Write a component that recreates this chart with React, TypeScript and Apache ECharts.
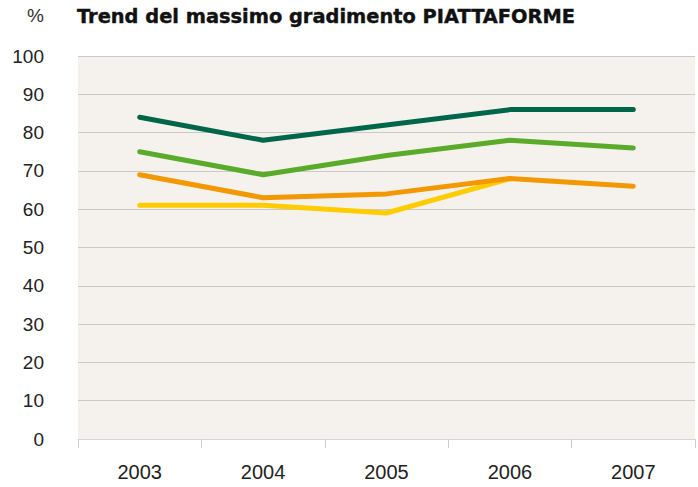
import React, { useEffect, useRef } from "react";
import * as echarts from "echarts";

const years = ["2003", "2004", "2005", "2006", "2007"];
const darkGreen = [84, 78, 82, 86, 86];
const lightGreen = [75, 69, 74, 78, 76];
const orange = [69, 63, 64, 68, 66];
const yellow = [61, 61, 59, 68, null];
const yTicks = { min: 0, max: 100, interval: 10 };

const FONT = "'Liberation Sans', Arial, sans-serif";

export default function App() {
  const ref = useRef<HTMLDivElement>(null);
  useEffect(() => {
    if (!ref.current) return;
    const chart = echarts.init(ref.current, undefined, { renderer: "svg" });
    const mk = (name: string, data: (number | null)[], color: string, z: number) => ({
      name,
      type: "line",
      data,
      symbol: "none",
      z,
      lineStyle: { color, width: 5, cap: "round", join: "round" },
    });
    chart.setOption({
      animation: false,
      backgroundColor: "#ffffff",
      title: {
        text: "Trend del massimo gradimento PIATTAFORME",
        left: 77,
        top: 7,
        padding: 0,
        textStyle: {
          fontFamily: "'DejaVu Sans', sans-serif",
          fontWeight: "bold",
          fontSize: 19.4,
          color: "#111",
          textBorderColor: "#111",
          textBorderWidth: 0.4,
        },
      },
      graphic: [
        {
          type: "text",
          left: 27,
          top: 6,
          style: { text: "%", fontFamily: FONT, fontSize: 19, fill: "#333" },
        },
      ],
      grid: { left: 78, right: 3, top: 56, bottom: 48, show: true, backgroundColor: "#f5f2ee", borderWidth: 0 },
      xAxis: {
        type: "category",
        data: years,
        boundaryGap: true,
        axisLine: { show: true, lineStyle: { color: "#d6d6d6", width: 1 } },
        axisTick: { show: true, length: 9, lineStyle: { color: "#cccccc" } },
        axisLabel: { fontFamily: FONT, fontSize: 20, color: "#222", margin: 23 },
      },
      yAxis: {
        type: "value",
        min: yTicks.min,
        max: yTicks.max,
        interval: yTicks.interval,
        axisLine: { show: false },
        axisTick: { show: false },
        axisLabel: { fontFamily: FONT, fontSize: 19, color: "#222", margin: 34 },
        splitLine: { show: true, lineStyle: { color: "#c9c9c9", width: 1 } },
      },
      series: [
        mk("yellow", yellow, "#ffcc00", 2),
        mk("orange", orange, "#f39800", 3),
        mk("lightGreen", lightGreen, "#5aab2a", 4),
        mk("darkGreen", darkGreen, "#00664a", 5),
      ],
    });
    return () => chart.dispose();
  }, []);
  return <div ref={ref} style={{ width: 698, height: 487, position: "absolute", left: 0, top: 0 }} />;
}
